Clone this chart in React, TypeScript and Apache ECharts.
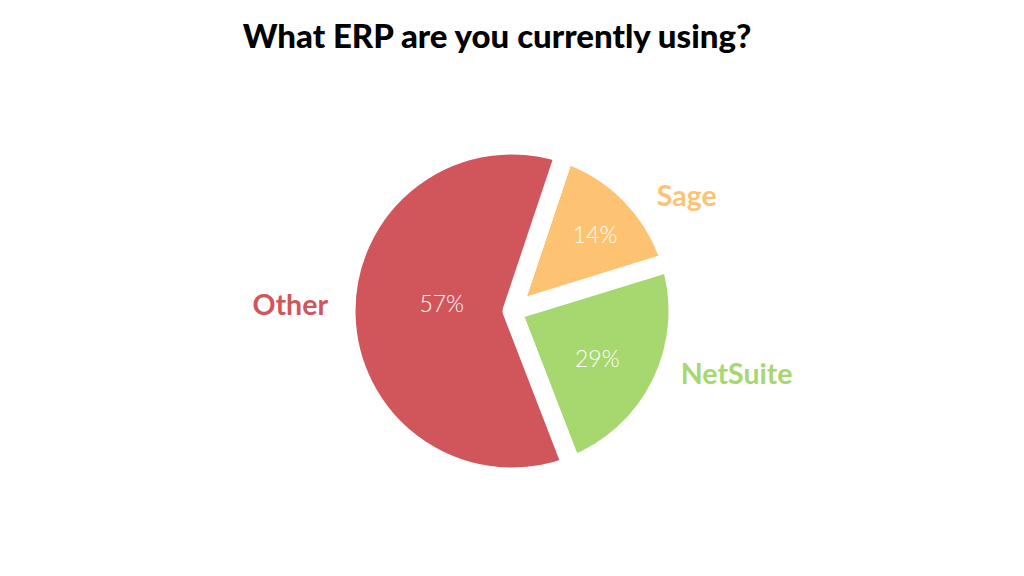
import React, { useEffect, useRef } from 'react';
import * as echarts from 'echarts';

const TITLE = 'What ERP are you currently using?';
const categories = ['Sage', 'NetSuite', 'Other'];
// slice sizes as they are drawn in the reference (share of the full circle, %)
const sliceShares = [15.1, 23.9, 61.0];
// percentages as printed on the slices
const percentLabels = ['14%', '29%', '57%'];

const COLORS = ['#FDC373', '#A7D76F', '#D1565B'];
const INNER_NUDGE = [
  [21.6, -17.3],
  [7.9, 9.4],
  [15.7, -10.1],
];
const OUTER_NUDGE = [
  [21, 0.2],
  [14.5, -10],
  [-13, -10.8],
];

export default function App() {
  const ref = useRef<HTMLDivElement>(null);

  useEffect(() => {
    if (!ref.current) return;
    const chart = echarts.init(ref.current, null, { renderer: 'svg' });
    const geometry = {
      type: 'pie' as const,
      center: [512, 311],
      radius: 166,
      startAngle: 71.5,
      clockwise: true,
      avoidLabelOverlap: false,
      silent: true,
    };
    chart.setOption({
      animation: false,
      backgroundColor: '#ffffff',
      title: {
        text: TITLE,
        left: 492,
        top: 13,
        textAlign: 'center',
        textStyle: {
          fontFamily: 'Lato',
          fontWeight: 900,
          fontSize: 33,
          color: '#000000',
        },
      },
      series: [
        {
          ...geometry,
          z: 2,
          data: categories.map((name, i) => ({
            name,
            value: sliceShares[i],
            itemStyle: { color: COLORS[i] },
          })),
          itemStyle: { borderColor: '#ffffff', borderWidth: 19 },
          label: {
            show: true,
            position: 'inside',
            formatter: (p: any) => percentLabels[p.dataIndex],
            color: '#ffffff',
            fontFamily: 'Lato',
            fontSize: 23,
            fontWeight: 300,
          },
          labelLine: { show: false },
          labelLayout: (p: any) => ({
            dx: INNER_NUDGE[p.dataIndex][0],
            dy: INNER_NUDGE[p.dataIndex][1],
          }),
        },
        {
          ...geometry,
          z: 3,
          data: categories.map((name, i) => ({
            name,
            value: sliceShares[i],
            label: { color: COLORS[i] },
          })),
          itemStyle: { color: 'rgba(0,0,0,0)', borderWidth: 0 },
          label: {
            show: true,
            position: 'outside',
            formatter: '{b}',
            fontFamily: 'Lato',
            fontSize: 28.5,
            fontWeight: 'bold',
          },
          labelLine: { show: false, length: 0, length2: 0 },
          labelLayout: (p: any) => ({
            dx: OUTER_NUDGE[p.dataIndex][0],
            dy: OUTER_NUDGE[p.dataIndex][1],
          }),
        },
      ],
    });
    return () => chart.dispose();
  }, []);

  return (
    <div
      ref={ref}
      style={{ position: 'fixed', left: 0, top: 0, width: 1024, height: 576, background: '#fff' }}
    />
  );
}
